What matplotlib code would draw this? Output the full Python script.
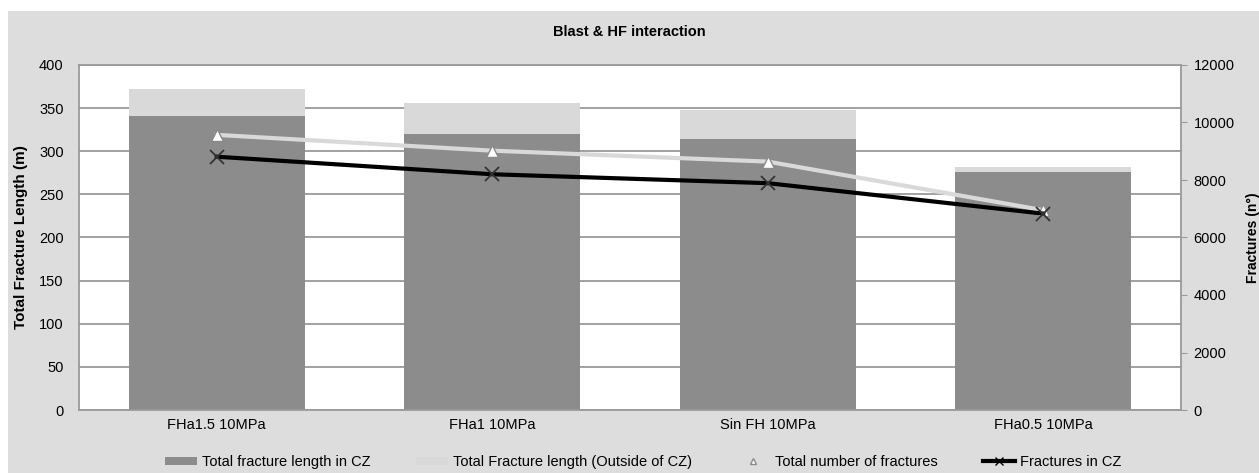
import matplotlib.pyplot as plt
import numpy as np
from matplotlib.patches import Patch, Rectangle
from matplotlib.lines import Line2D

plt.rcParams['font.family'] = ['Liberation Sans', 'DejaVu Sans']

cases = ['FHa1.5 10MPa', 'FHa1 10MPa', 'Sin FH 10MPa', 'FHa0.5 10MPa']
length_cz = [341, 320, 314, 276]
length_total = [372, 356, 348, 282]
n_total = [9570, 9020, 8640, 6950]
n_cz = [8810, 8200, 7890, 6830]

length_out = [t - c for t, c in zip(length_total, length_cz)]
x = np.arange(len(cases))

fig = plt.figure(figsize=(12.59, 4.73), dpi=100, facecolor='white')
# grey chart-area background
fig.patches.append(Rectangle((8 / 1259, 0), 1, (473 - 11) / 473, transform=fig.transFigure,
                             facecolor='#dddddd', edgecolor='none', zorder=-10))

ax = fig.add_axes([79 / 1259, 63 / 473, (1181 - 79) / 1259, (410 - 65) / 473])
ax.set_facecolor('white')

ax.bar(x, length_cz, 0.64, color='#8c8c8c', zorder=2)
ax.bar(x, length_out, 0.64, bottom=length_cz, color='#d9d9d9', zorder=2)

ax.set_xlim(-0.5, len(cases) - 0.5)
ax.set_ylim(0, 400)
ax.set_yticks(np.arange(0, 401, 50))
ax.set_xticks(x)
ax.set_xticklabels(cases, fontsize=10.5)
ax.tick_params(axis='x', length=0, pad=6)
ax.tick_params(axis='y', length=0, pad=11, labelsize=10.5)
ax.yaxis.grid(True, color='#9a9a9a', linewidth=1.3, zorder=0)
ax.set_axisbelow(True)
for s in ax.spines.values():
    s.set_color('#9a9a9a')
    s.set_linewidth(1.3)
ax.set_ylabel('Total Fracture Length (m)', fontsize=11, fontweight='bold')
ax.yaxis.set_label_coords(-0.046, 0.5)

ax2 = ax.twinx()
ax2.set_ylim(0, 12000)
ax2.set_yticks(np.arange(0, 12001, 2000))
ax2.tick_params(axis='y', length=4, color='#9a9a9a', pad=5, labelsize=10.5)
for s in ax2.spines.values():
    s.set_visible(False)
ax2.set_ylabel('Fractures (n°)', fontsize=10, fontweight='bold')
ax2.yaxis.set_label_coords(1.059, 0.5)

ax2.plot(x, n_total, color='#d9d9d9', linewidth=3, marker='^', markersize=8,
         markerfacecolor='white', markeredgecolor='#8a8a8a', zorder=3)
ax2.plot(x, n_cz, color='black', linewidth=3, marker='x', markersize=10,
         markeredgewidth=1.3, markeredgecolor='#333333', zorder=4)

fig.text(0.5, 1 - 32 / 473, 'Blast & HF interaction', ha='center', va='center',
         fontsize=10.5, fontweight='bold')

handles = [
    Patch(facecolor='#8c8c8c', edgecolor='none'),
    Patch(facecolor='#d9d9d9', edgecolor='none'),
    Line2D([], [], linestyle='none', marker='^', markersize=5,
           markerfacecolor='white', markeredgecolor='#8a8a8a'),
    Line2D([], [], color='black', linewidth=3, marker='x', markersize=6),
]
labels = ['Total fracture length in CZ', 'Total Fracture length (Outside of CZ)',
          'Total number of fractures', 'Fractures in CZ']
fig.legend(handles, labels, loc='center', bbox_to_anchor=(643 / 1259, 1 - 462 / 473),
           ncol=4, frameon=False, fontsize=10.5, handlelength=2.2, handleheight=0.45,
           columnspacing=3.1, handletextpad=0.35)

fig.savefig('out.png', dpi=100, facecolor=fig.get_facecolor())
